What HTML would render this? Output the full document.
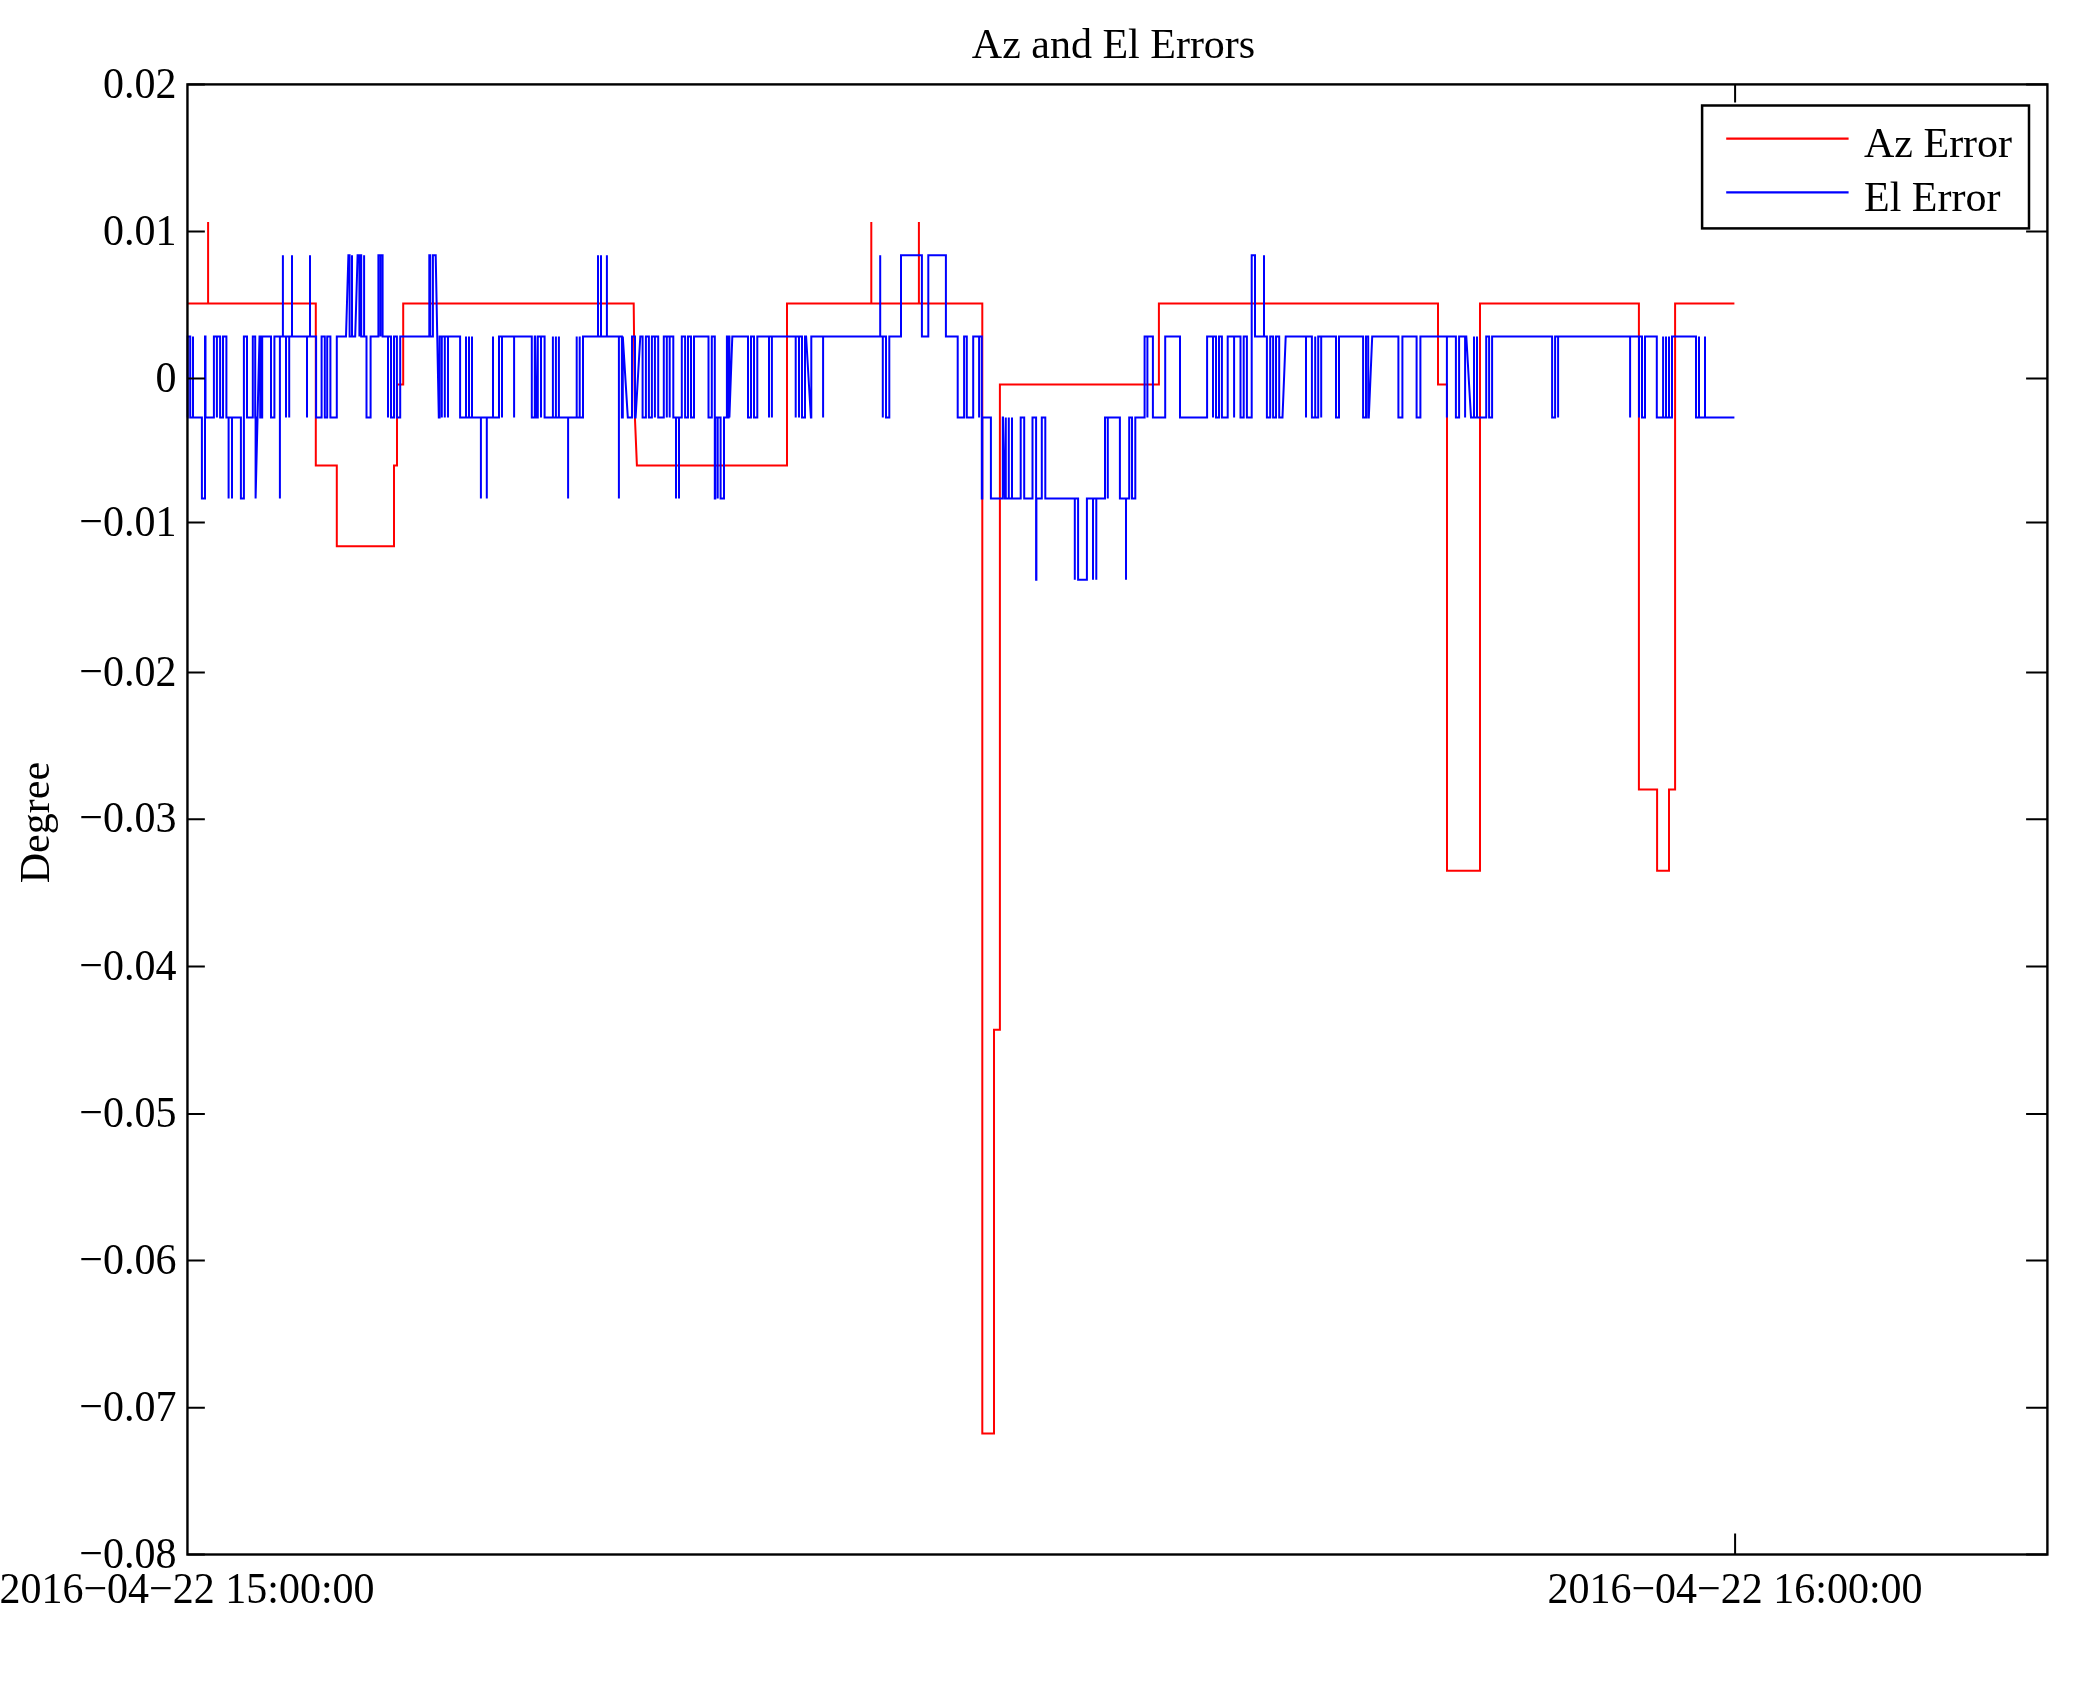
<!DOCTYPE html>
<html><head><meta charset="utf-8"><title>Az and El Errors</title>
<style>
html,body{margin:0;padding:0;background:#fff;}
svg{display:block;will-change:transform;}
text{font-family:"Liberation Serif",serif;fill:#000;}
</style></head>
<body>
<svg width="2075" height="1683" viewBox="0 0 2075 1683">
<rect x="0" y="0" width="2075" height="1683" fill="#fff"/>
<g font-size="42">
<text x="1113.5" y="57.7" text-anchor="middle">Az and El Errors</text>
<text transform="translate(176.5 97.6) scale(1 1.07)" text-anchor="end">0.02</text>
<text transform="translate(176.5 244.6) scale(1 1.07)" text-anchor="end">0.01</text>
<text transform="translate(176.5 391.7) scale(1 1.07)" text-anchor="end">0</text>
<text transform="translate(176.5 535.8) scale(1 1.07)" text-anchor="end">&#8722;0.01</text>
<text transform="translate(176.5 685.7) scale(1 1.07)" text-anchor="end">&#8722;0.02</text>
<text transform="translate(176.5 832.4) scale(1 1.07)" text-anchor="end">&#8722;0.03</text>
<text transform="translate(176.5 979.7) scale(1 1.07)" text-anchor="end">&#8722;0.04</text>
<text transform="translate(176.5 1127.2) scale(1 1.07)" text-anchor="end">&#8722;0.05</text>
<text transform="translate(176.5 1273.8) scale(1 1.07)" text-anchor="end">&#8722;0.06</text>
<text transform="translate(176.5 1420.9) scale(1 1.07)" text-anchor="end">&#8722;0.07</text>
<text transform="translate(176.5 1567.7) scale(1 1.07)" text-anchor="end">&#8722;0.08</text>
<text transform="translate(187 1603.4) scale(1 1.06)" text-anchor="middle">2016&#8722;04&#8722;22 15:00:00</text>
<text transform="translate(1735 1603.4) scale(1 1.06)" text-anchor="middle">2016&#8722;04&#8722;22 16:00:00</text>
<text transform="translate(48.9 822.6) rotate(-90)" text-anchor="middle">Degree</text>
</g>
<path d="M187.3 303.5 L208.1 303.5 L208.1 222.0 L208.1 303.5 L315.8 303.5 L315.8 465.4 L336.8 465.4 L336.8 546.3 L394.0 546.3 L394.0 465.4 L397.0 465.4 L397.0 384.5 L403.2 384.5 L403.2 303.5 L633.7 303.5 L634.9 417.0 L636.9 465.4 L787.0 465.4 L787.0 303.5 L871.3 303.5 L871.3 222.0 L871.3 303.5 L918.9 303.5 L918.9 222.0 L918.9 303.5 L982.3 303.5 L982.3 1433.5 L994.0 1433.5 L994.0 1029.7 L999.9 1029.7 L999.9 384.4 L1158.9 384.4 L1158.9 303.5 L1438.0 303.5 L1438.0 384.6 L1447.0 384.6 L1447.0 870.7 L1480.0 870.7 L1480.0 303.5 L1638.9 303.5 L1638.9 789.4 L1657.1 789.4 L1657.1 870.7 L1669.0 870.7 L1669.0 789.4 L1675.1 789.4 L1675.1 303.5 L1734.4 303.5" fill="none" stroke="#f00" stroke-width="2" stroke-linejoin="miter"/>
<path d="M187.3 417.5 L187.7 417.5 L187.7 336.5 L190.2 336.5 L190.2 417.5 L193.0 417.5 L193.0 336.5 L193.0 417.5 L201.9 417.5 L201.9 498.4 L205.0 498.4 L205.0 336.5 L205.5 336.5 L205.5 417.5 L213.9 417.5 L213.9 336.5 L216.9 336.5 L216.9 417.5 L216.9 336.5 L220.1 336.5 L220.1 417.5 L223.0 417.5 L223.0 336.5 L226.4 336.5 L226.4 417.5 L228.6 417.5 L228.6 498.4 L228.6 417.5 L232.0 417.5 L232.0 498.4 L232.0 417.5 L240.9 417.5 L240.9 498.4 L243.9 498.4 L243.9 336.5 L247.0 336.5 L247.0 417.5 L252.8 417.5 L252.8 336.5 L255.2 336.5 L255.2 417.5 L255.6 417.5 L255.6 498.4 L259.5 336.5 L260.2 336.5 L260.2 417.5 L260.8 417.5 L260.8 336.5 L261.5 336.5 L261.5 417.5 L262.2 417.5 L262.2 336.5 L271.0 336.5 L271.0 417.5 L274.4 417.5 L274.4 336.5 L279.9 336.5 L279.9 498.4 L279.9 336.5 L282.9 336.5 L282.9 255.2 L282.9 336.5 L286.0 336.5 L286.0 417.5 L286.0 336.5 L289.2 336.5 L289.2 417.5 L289.2 336.5 L292.0 336.5 L292.0 255.2 L292.0 336.5 L307.0 336.5 L307.0 417.5 L307.0 336.5 L310.0 336.5 L310.0 255.2 L310.0 336.5 L316.1 336.5 L316.1 417.5 L321.6 417.5 L321.6 336.5 L324.8 336.5 L324.8 417.5 L327.2 417.5 L327.2 336.5 L330.4 336.5 L330.4 417.5 L336.8 417.5 L336.8 336.5 L346.0 336.5 L348.4 255.2 L349.6 255.2 L349.6 336.5 L352.0 336.5 L352.0 255.2 L352.0 336.5 L355.2 336.5 L357.6 255.2 L359.4 255.2 L359.4 336.5 L359.4 255.2 L361.2 255.2 L361.2 336.5 L364.1 336.5 L364.1 255.2 L364.1 336.5 L366.5 336.5 L366.5 417.5 L370.6 417.5 L370.6 336.5 L378.4 336.5 L378.4 255.2 L380.5 255.2 L380.5 336.5 L380.5 255.2 L382.6 255.2 L382.6 336.5 L388.0 336.5 L388.0 417.5 L388.0 336.5 L391.0 336.5 L391.0 417.5 L394.0 417.5 L394.0 336.5 L396.9 336.5 L396.9 417.5 L400.2 417.5 L400.2 336.5 L429.3 336.5 L429.3 255.2 L430.2 255.2 L430.2 336.5 L432.9 336.5 L432.9 255.2 L435.7 255.2 L438.8 417.5 L439.6 417.5 L439.6 336.5 L441.8 336.5 L441.8 417.5 L441.8 336.5 L444.8 336.5 L444.8 417.5 L444.8 336.5 L448.0 336.5 L448.0 417.5 L448.0 336.5 L460.1 336.5 L460.1 417.5 L466.0 417.5 L466.0 336.5 L466.0 417.5 L469.0 417.5 L469.0 336.5 L469.0 417.5 L472.0 417.5 L472.0 336.5 L472.0 417.5 L480.9 417.5 L480.9 498.4 L480.9 417.5 L486.8 417.5 L486.8 498.4 L486.8 417.5 L493.0 417.5 L493.0 336.5 L493.0 417.5 L499.0 417.5 L499.0 336.5 L502.0 336.5 L502.0 417.5 L502.0 336.5 L514.1 336.5 L514.1 417.5 L514.1 336.5 L531.8 336.5 L531.8 417.5 L534.8 417.5 L534.8 336.5 L535.2 336.5 L536.4 417.5 L537.8 417.5 L537.8 336.5 L541.0 336.5 L541.0 417.5 L541.0 336.5 L544.6 336.5 L544.6 417.5 L552.9 417.5 L552.9 336.5 L552.9 417.5 L555.9 417.5 L555.9 336.5 L555.9 417.5 L558.9 417.5 L558.9 336.5 L558.9 417.5 L568.1 417.5 L568.1 498.4 L568.1 417.5 L576.7 417.5 L576.7 336.5 L576.7 417.5 L579.7 417.5 L579.7 336.5 L579.7 417.5 L583.0 417.5 L583.0 336.5 L598.0 336.5 L598.0 255.2 L598.0 336.5 L601.0 336.5 L601.0 255.2 L601.0 336.5 L606.9 336.5 L606.9 255.2 L606.9 336.5 L618.9 336.5 L618.9 498.4 L618.9 336.5 L621.9 336.5 L621.9 417.5 L622.8 417.5 L622.8 336.5 L627.8 417.5 L632.0 417.5 L632.0 336.5 L635.0 336.5 L635.0 417.5 L635.6 417.5 L640.3 336.5 L642.6 336.5 L642.6 417.5 L645.9 417.5 L645.9 336.5 L648.9 336.5 L648.9 417.5 L651.9 417.5 L651.9 336.5 L654.9 336.5 L654.9 417.5 L654.9 336.5 L658.2 336.5 L658.2 417.5 L663.8 417.5 L663.8 336.5 L666.8 336.5 L666.8 417.5 L666.8 336.5 L669.7 336.5 L669.7 417.5 L669.7 336.5 L673.3 336.5 L673.3 417.5 L676.0 417.5 L676.0 498.4 L676.0 417.5 L679.0 417.5 L679.0 498.4 L679.0 417.5 L681.8 417.5 L681.8 336.5 L685.1 336.5 L685.1 417.5 L688.0 417.5 L688.0 336.5 L691.0 336.5 L691.0 417.5 L694.0 417.5 L694.0 336.5 L708.5 336.5 L708.5 417.5 L711.8 417.5 L711.8 336.5 L714.8 336.5 L714.8 498.4 L715.3 498.4 L715.3 417.5 L717.7 417.5 L717.7 498.4 L717.7 417.5 L720.6 417.5 L720.6 498.4 L724.0 498.4 L724.0 417.5 L726.9 417.5 L726.9 336.5 L727.8 336.5 L727.8 417.5 L728.6 417.5 L728.6 336.5 L729.4 336.5 L729.4 417.5 L732.3 336.5 L748.0 336.5 L748.0 417.5 L751.0 417.5 L751.0 336.5 L754.0 336.5 L754.0 417.5 L757.3 417.5 L757.3 336.5 L769.0 336.5 L769.0 417.5 L769.0 336.5 L771.9 336.5 L771.9 417.5 L771.9 336.5 L795.7 336.5 L795.7 417.5 L795.7 336.5 L799.0 336.5 L799.0 417.5 L799.0 336.5 L802.0 336.5 L802.0 417.5 L805.0 417.5 L805.0 336.5 L806.1 336.5 L810.9 417.5 L811.3 417.5 L811.3 336.5 L823.1 336.5 L823.1 417.5 L823.1 336.5 L880.2 336.5 L880.2 255.2 L880.2 336.5 L882.8 336.5 L882.8 417.5 L882.8 336.5 L886.0 336.5 L886.0 417.5 L889.3 417.5 L889.3 336.5 L901.0 336.5 L901.0 255.2 L921.9 255.2 L921.9 336.5 L928.3 336.5 L928.3 255.2 L945.9 255.2 L945.9 336.5 L957.7 336.5 L957.7 417.5 L964.1 417.5 L964.1 336.5 L966.8 336.5 L966.8 417.5 L973.2 417.5 L973.2 336.5 L979.1 336.5 L979.1 417.5 L979.1 336.5 L981.8 336.5 L981.8 498.4 L982.3 498.4 L982.3 417.5 L990.9 417.5 L990.9 498.4 L1002.8 498.4 L1002.8 417.5 L1003.0 417.5 L1004.9 498.4 L1005.8 498.4 L1005.8 417.5 L1005.8 498.4 L1008.8 498.4 L1008.8 417.5 L1008.8 498.4 L1012.0 498.4 L1012.0 417.5 L1012.0 498.4 L1020.7 498.4 L1020.7 417.5 L1024.2 417.5 L1024.2 498.4 L1032.5 498.4 L1032.5 417.5 L1036.1 417.5 L1036.1 579.8 L1036.4 579.8 L1036.4 498.4 L1041.8 498.4 L1041.8 417.5 L1045.3 417.5 L1045.3 498.4 L1074.8 498.4 L1074.8 579.8 L1074.8 498.4 L1078.1 498.4 L1078.1 579.8 L1086.9 579.8 L1086.9 498.4 L1093.0 498.4 L1093.0 579.8 L1093.0 498.4 L1096.3 498.4 L1096.3 579.8 L1096.3 498.4 L1105.0 498.4 L1105.0 417.5 L1107.8 417.5 L1107.8 498.4 L1107.8 417.5 L1119.9 417.5 L1119.9 498.4 L1126.0 498.4 L1126.0 579.8 L1126.0 498.4 L1129.2 498.4 L1129.2 417.5 L1132.0 417.5 L1132.0 498.4 L1135.3 498.4 L1135.3 417.5 L1144.6 417.5 L1144.6 336.5 L1147.4 336.5 L1147.4 417.5 L1147.4 336.5 L1152.9 336.5 L1152.9 417.5 L1165.2 417.5 L1165.2 336.5 L1180.0 336.5 L1180.0 417.5 L1207.1 417.5 L1207.1 336.5 L1213.0 336.5 L1213.0 417.5 L1213.0 336.5 L1216.0 336.5 L1216.0 417.5 L1219.0 417.5 L1219.0 336.5 L1221.9 336.5 L1221.9 417.5 L1227.7 417.5 L1227.7 336.5 L1234.1 336.5 L1234.1 417.5 L1234.1 336.5 L1240.5 336.5 L1240.5 417.5 L1243.7 417.5 L1243.7 336.5 L1246.9 336.5 L1246.9 417.5 L1251.7 417.5 L1251.7 255.2 L1255.0 255.2 L1255.0 336.5 L1264.0 336.5 L1264.0 255.2 L1264.0 336.5 L1266.9 336.5 L1266.9 417.5 L1270.2 417.5 L1270.2 336.5 L1273.1 336.5 L1273.1 417.5 L1276.0 417.5 L1276.0 336.5 L1279.2 336.5 L1279.2 417.5 L1282.5 417.5 L1285.7 336.5 L1306.0 336.5 L1306.0 417.5 L1306.0 336.5 L1311.9 336.5 L1311.9 417.5 L1315.2 417.5 L1315.2 336.5 L1315.2 417.5 L1318.2 417.5 L1318.2 336.5 L1321.2 336.5 L1321.2 417.5 L1321.2 336.5 L1336.0 336.5 L1336.0 417.5 L1339.0 417.5 L1339.0 336.5 L1363.1 336.5 L1363.1 417.5 L1366.0 417.5 L1366.0 336.5 L1368.2 336.5 L1368.2 417.5 L1368.8 417.5 L1372.2 336.5 L1398.4 336.5 L1398.4 417.5 L1402.4 417.5 L1402.4 336.5 L1416.6 336.5 L1416.6 417.5 L1420.4 417.5 L1420.4 336.5 L1446.9 336.5 L1446.9 417.5 L1446.9 336.5 L1455.9 336.5 L1455.9 417.5 L1459.1 417.5 L1459.1 336.5 L1465.1 336.5 L1465.1 417.5 L1465.1 336.5 L1466.3 336.5 L1471.0 417.5 L1474.0 417.5 L1474.0 336.5 L1474.0 417.5 L1477.0 417.5 L1477.0 336.5 L1477.0 417.5 L1486.2 417.5 L1486.2 336.5 L1489.1 336.5 L1489.1 417.5 L1492.1 417.5 L1492.1 336.5 L1552.1 336.5 L1552.1 417.5 L1555.1 417.5 L1555.1 336.5 L1558.1 336.5 L1558.1 417.5 L1558.1 336.5 L1630.1 336.5 L1630.1 417.5 L1630.1 336.5 L1639.0 336.5 L1639.0 417.5 L1639.0 336.5 L1642.0 336.5 L1642.0 417.5 L1645.0 417.5 L1645.0 336.5 L1656.8 336.5 L1656.8 417.5 L1663.1 417.5 L1663.1 336.5 L1663.1 417.5 L1666.0 417.5 L1666.0 336.5 L1666.0 417.5 L1669.0 417.5 L1669.0 336.5 L1669.0 417.5 L1672.0 417.5 L1672.0 336.5 L1696.0 336.5 L1696.0 417.5 L1699.0 417.5 L1699.0 336.5 L1699.0 417.5 L1705.0 417.5 L1705.0 336.5 L1705.0 417.5 L1734.4 417.5" fill="none" stroke="#00f" stroke-width="2" stroke-linejoin="miter"/>
<path d="M187.45 84.4 H204.85 M2047.40 84.4 H2026.1 M187.45 231.4 H204.85 M2047.40 231.4 H2026.1 M187.45 378.5 H204.85 M2047.40 378.5 H2026.1 M187.45 522.6 H204.85 M2047.40 522.6 H2026.1 M187.45 672.5 H204.85 M2047.40 672.5 H2026.1 M187.45 819.2 H204.85 M2047.40 819.2 H2026.1 M187.45 966.5 H204.85 M2047.40 966.5 H2026.1 M187.45 1114.0 H204.85 M2047.40 1114.0 H2026.1 M187.45 1260.6 H204.85 M2047.40 1260.6 H2026.1 M187.45 1407.7 H204.85 M2047.40 1407.7 H2026.1 M187.45 1554.5 H204.85 M2047.40 1554.5 H2026.1 M1735.1 84.4 V102.6 M1735.1 1554.5 V1533.6" fill="none" stroke="#000" stroke-width="2"/>
<rect x="187.45" y="84.40" width="1859.95" height="1470.10" fill="none" stroke="#000" stroke-width="2.4"/>
<rect x="1702.1" y="105.5" width="326.9" height="122.9" fill="#fff" stroke="#000" stroke-width="2.5"/>
<path d="M1726.2 138.6 H1848.6" stroke="#f00" stroke-width="2.2"/>
<path d="M1726.2 192.4 H1848.6" stroke="#00f" stroke-width="2.2"/>
<g font-size="42">
<text x="1864" y="157.2">Az Error</text>
<text x="1864" y="211">El Error</text>
</g>
</svg>
</body></html>
